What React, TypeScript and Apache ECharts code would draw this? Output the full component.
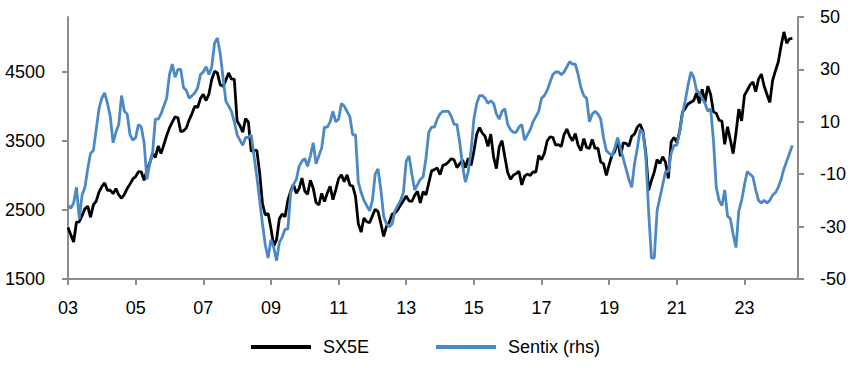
import React, { useEffect, useRef } from "react";
import * as echarts from "echarts";

// Monthly categories Jan 2003 .. Aug 2024
const months: string[] = [];
for (let y = 2003; y <= 2024; y++) {
  for (let m = 1; m <= 12; m++) {
    if (y === 2024 && m > 8) break;
    months.push(`${y}-${String(m).padStart(2, "0")}`);
  }
}

const sx5e: number[] = [
  // 2003
  2248, 2140, 2036, 2324, 2330, 2419, 2519, 2556, 2395, 2575, 2630, 2760,
  // 2004
  2839, 2893, 2787, 2787, 2737, 2811, 2720, 2671, 2726, 2811, 2876, 2951,
  // 2005
  2984, 3058, 3055, 2930, 3076, 3182, 3326, 3263, 3429, 3320, 3447, 3579,
  // 2006
  3692, 3775, 3853, 3839, 3637, 3649, 3692, 3809, 3899, 4004, 3987, 4120,
  // 2007
  4178, 4088, 4182, 4393, 4512, 4489, 4316, 4294, 4382, 4489, 4398, 4400,
  // 2008
  3792, 3724, 3628, 3826, 3777, 3352, 3367, 3365, 3038, 2592, 2430, 2448,
  // 2009
  2237, 1976, 2071, 2375, 2444, 2401, 2639, 2775, 2873, 2743, 2812, 2965,
  // 2010
  2776, 2728, 2931, 2817, 2610, 2573, 2742, 2623, 2748, 2844, 2650, 2793,
  // 2011
  2954, 3013, 2911, 3011, 2862, 2849, 2700, 2303, 2180, 2385, 2330, 2317,
  // 2012
  2416, 2512, 2477, 2306, 2118, 2265, 2325, 2440, 2454, 2503, 2575, 2636,
  // 2013
  2703, 2633, 2624, 2713, 2770, 2603, 2768, 2721, 2893, 3068, 3086, 3109,
  // 2014
  3013, 3149, 3162, 3198, 3245, 3228, 3116, 3173, 3226, 3114, 3251, 3146,
  // 2015
  3351, 3599, 3697, 3616, 3570, 3424, 3601, 3270, 3100, 3418, 3506, 3268,
  // 2016
  3045, 2946, 3005, 3028, 3063, 2865, 2991, 3023, 3002, 3055, 3052, 3291,
  // 2017
  3231, 3320, 3501, 3560, 3555, 3442, 3450, 3421, 3595, 3674, 3570, 3504,
  // 2018
  3609, 3439, 3362, 3536, 3407, 3396, 3526, 3393, 3399, 3197, 3173, 3001,
  // 2019
  3159, 3298, 3352, 3515, 3280, 3474, 3467, 3427, 3569, 3604, 3703, 3745,
  // 2020
  3641, 3329, 2787, 2928, 3050, 3234, 3174, 3273, 3194, 2958, 3492, 3553,
  // 2021
  3481, 3636, 3919, 3975, 4039, 4064, 4089, 4196, 4048, 4250, 4063, 4298,
  // 2022
  4175, 3924, 3903, 3803, 3789, 3455, 3708, 3517, 3318, 3618, 3965, 3794,
  // 2023
  4163, 4238, 4315, 4359, 4218, 4399, 4471, 4297, 4175, 4061, 4382, 4521,
  // 2024
  4648, 4878, 5083, 4921, 4984, 4990,
];

const sentix: number[] = [
  // 2003
  -22, -23, -21, -15, -27, -18, -15, -8, -2, -1, 7, 15,
  // 2004
  19, 21, 17, 12, 2, 6, 9, 20, 14, 13, 5, 3,
  // 2005
  4, 9, 8, 2, -12, -6, -2, 11, 11, 13, 16, 19,
  // 2006
  28, 32, 27, 30, 30, 23, 22, 19, 20, 21, 23, 28,
  // 2007
  29, 31, 28, 31, 40, 42, 36, 27, 18, 16, 14, 10,
  // 2008
  5, 3, 1, 4, 4, 5, -3, -11, -20, -29, -37, -42,
  // 2009
  -35, -38, -43, -36, -34, -31, -31, -17, -14, -12, -7, -5,
  // 2010
  -4, -7, -3, 2, -6, -3, 0, 8, 8, 10, 14, 10,
  // 2011
  11, 17, 16, 14, 12, 5, 5, -13, -17, -20, -22, -24,
  // 2012
  -20, -10, -8, -16, -26, -29, -30, -29, -24, -22, -20, -17,
  // 2013
  -5, -3, -10, -16, -14, -12, -11, -4, 6, 8, 8, 11,
  // 2014
  13, 14, 14, 14, 12, 9, 9, 2, -7, -13, -9, -1,
  // 2015
  11, 17, 20, 20, 19, 17, 18, 17, 13, 11, 14, 15,
  // 2016
  9, 7, 6, 6, 8, 9, 3, 5, 7, 10, 12, 14,
  // 2017
  19, 20, 22, 25, 28, 29, 29, 28, 29, 31, 33, 32,
  // 2018
  32, 28, 23, 20, 19, 10, 13, 14, 13, 11, 4, -1,
  // 2019
  -2, -3, 0, 4, 0, -4, -8, -12, -15, -6, 0, 7,
  // 2020
  6, -3, -24, -42, -42, -24, -19, -14, -9, -9, -2, 1,
  // 2021
  1, 6, 13, 18, 24, 29, 27, 22, 21, 19, 17, 14,
  // 2022
  15, 3, -15, -20, -22, -16, -26, -27, -33, -38, -24, -20,
  // 2023
  -14, -9, -10, -11, -16, -20, -21, -20, -21, -20, -18, -17,
  // 2024
  -15, -12, -8, -5, -2, 1,
];

const leftTicks: number[] = [1500, 2500, 3500, 4500];
const rightTicks: number[] = [-50, -30, -10, 10, 30, 50];

const FONT = "'Liberation Sans', Arial, sans-serif";
const AXIS_COLOR = "#8c8c8c";
const FS = 18;

export default function App() {
  const ref = useRef<HTMLDivElement>(null);
  useEffect(() => {
    document.body.style.margin = "0";
    if (!ref.current) return;
    const chart = echarts.init(ref.current, undefined, { renderer: "svg" });
    const yearTick = (idx: number) => idx % 24 === 0;
    chart.setOption({
      animation: false,
      backgroundColor: "#ffffff",
      grid: { left: 68, right: 54, top: 17, bottom: 89, containLabel: false },
      legend: {
        top: 333,
        left: 246,
        itemWidth: 60,
        itemHeight: 4,
        itemGap: 67,
        icon: "rect",
        textStyle: { fontFamily: FONT, fontSize: FS, color: "#000", padding: [0, 0, 0, 7] },
        data: [
          { name: "SX5E", itemStyle: { color: "#000000" } },
          { name: "Sentix (rhs)", itemStyle: { color: "#4a89c5" } },
        ],
      },
      xAxis: {
        type: "category",
        data: months,
        boundaryGap: false,
        axisLine: { onZero: false, lineStyle: { color: AXIS_COLOR, width: 2 } },
        axisTick: { show: true, interval: yearTick, length: 6, lineStyle: { color: AXIS_COLOR, width: 2 } },
        axisLabel: {
          interval: yearTick,
          formatter: (v: string) => v.slice(2, 4),
          fontFamily: FONT,
          fontSize: FS,
          color: "#000",
          margin: 20,
        },
        splitLine: { show: false },
      },
      yAxis: [
        {
          type: "value",
          min: 1500,
          max: 5300,
          position: "left",
          axisLine: { show: true, lineStyle: { color: AXIS_COLOR, width: 2 } },
          axisTick: { show: true, length: 6, customValues: leftTicks, lineStyle: { color: AXIS_COLOR, width: 2 } },
          axisLabel: {
            customValues: leftTicks,
            formatter: (v: number) => String(v),
            fontFamily: FONT,
            fontSize: FS,
            color: "#000",
            margin: 23,
          },
          splitLine: { show: false },
        },
        {
          type: "value",
          min: -50,
          max: 50,
          position: "right",
          axisLine: { show: true, lineStyle: { color: AXIS_COLOR, width: 2 } },
          axisTick: { show: true, length: 6, customValues: rightTicks, lineStyle: { color: AXIS_COLOR, width: 2 } },
          axisLabel: {
            customValues: rightTicks,
            formatter: (v: number) => String(v),
            fontFamily: FONT,
            fontSize: FS,
            color: "#000",
            margin: 22,
          },
          splitLine: { show: false },
        },
      ],
      series: [
        {
          name: "SX5E",
          type: "line",
          yAxisIndex: 0,
          data: sx5e,
          showSymbol: false,
          lineStyle: { color: "#000000", width: 2.8 },
          itemStyle: { color: "#000000" },
        },
        {
          name: "Sentix (rhs)",
          type: "line",
          yAxisIndex: 1,
          data: sentix,
          showSymbol: false,
          lineStyle: { color: "#4a89c5", width: 2.8 },
          itemStyle: { color: "#4a89c5" },
        },
      ],
    });
    return () => chart.dispose();
  }, []);
  return <div ref={ref} style={{ width: 852, height: 368 }} />;
}
